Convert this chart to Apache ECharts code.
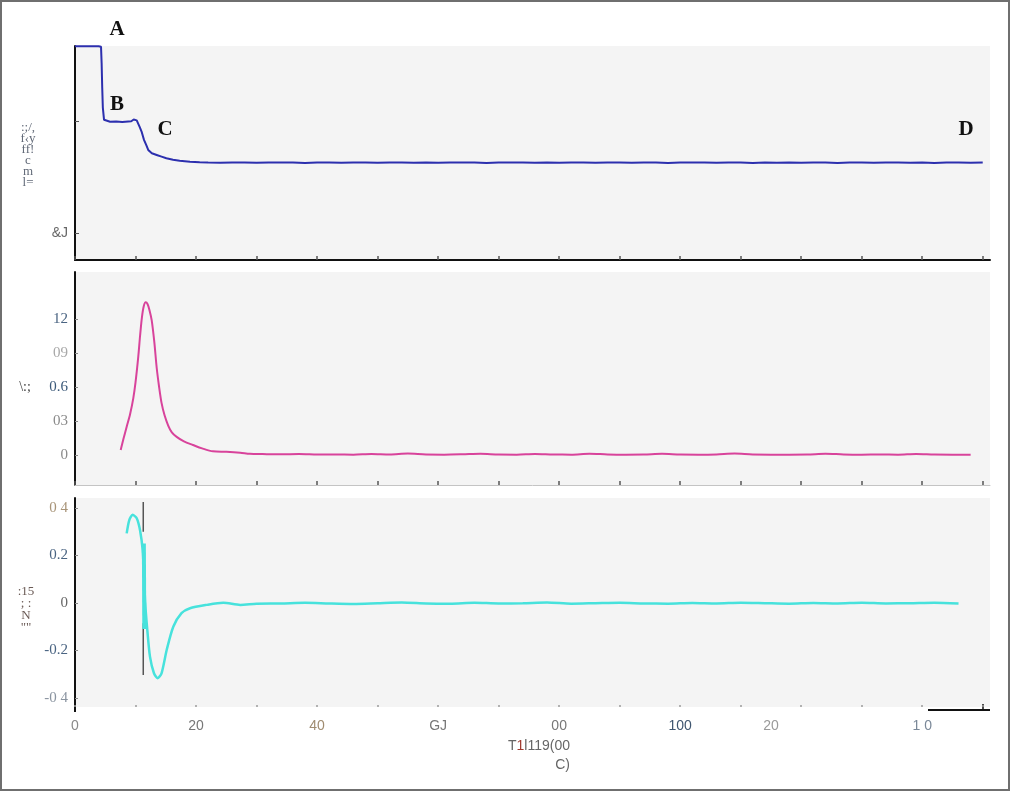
<!DOCTYPE html>
<html><head><meta charset="utf-8">
<script src="https://cdn.jsdelivr.net/npm/echarts@6/dist/echarts.min.js"></script>
<style>html,body{margin:0;padding:0;background:#fff}#c{width:1011px;height:792px}</style>
</head><body><div id="c"></div>
<script>
// ---------- DATA ----------
const xTickValues = [0,10,20,30,40,50,60,70,80,90,100,110,120,130,140,150];
const xLabelValues = [0,20,40,60,80,100,115,140];
const xLabelTexts = ['0','20','40','GJ','00','100','20','1 0'];

const y1TickValues = [80,100];
const y1LabelValues = [80];
const y1LabelTexts = ['&J'];
const y2TickValues = [0,0.3,0.6,0.9,1.2];
const y2LabelTexts = ['0','03','0.6','09','12'];
const y3TickValues = [-0.4,-0.2,0,0.2,0.4];
const y3LabelTexts = ['-0 4','-0.2','0','0.2','0 4'];

// top panel (blue trace)
const topX = [0,3.9,4.1,4.3,4.4,4.5,4.6,4.8,5.0,5.8,6.8,7.8,8.8,9.3,9.7,10.2,10.7,11.0,11.4,11.8,12.1,12.7,13.5,14.3,15.1,16.2,17.3,19.0,20.6,
  22,24,26,28,30,32,34,36,38,40,42,44,46,
  48,50,52,54,56,58,60,62,64,66,68,70,72,
  74,76,78,80,82,84,86,88,90,92,94,96,98,
  100,102,104,106,108,110,112,114,116,118,120,122,124,
  126,128,130,132,134,136,138,140,142,144,146,148,150];
const topY = [113.5,113.5,113.7,113.4,110.5,106,102.5,100.3,100.0,99.95,100.0,99.9,100.0,100.05,100.35,100.2,99.0,98.2,96.7,95.7,94.9,94.3,94.0,93.7,93.4,93.15,92.97,92.8,92.68,
  92.65,92.62,92.66,92.64,92.60,92.66,92.63,92.65,92.55,92.66,92.64,92.62,92.66,
  92.65,92.58,92.66,92.64,92.62,92.66,92.60,92.65,92.63,92.66,92.56,92.65,92.64,
  92.66,92.60,92.65,92.62,92.66,92.63,92.58,92.66,92.64,92.62,92.66,92.65,92.55,
  92.66,92.63,92.65,92.60,92.66,92.64,92.57,92.66,92.62,92.65,92.60,92.66,92.63,
  92.55,92.66,92.64,92.60,92.66,92.65,92.62,92.66,92.55,92.64,92.66,92.60,92.66];

// middle panel (magenta trace)
const midX = [7.55,8.0,8.54,9.1,9.63,10.0,10.46,10.75,11.05,11.35,11.68,12.0,12.3,12.67,13.1,13.5,13.9,14.3,14.8,15.4,16.0,16.8,18.0,19.5,21.0,22.8,25.0,27.3,28.9,
  31,34,37,40,43,46,49,52,55,58,61,64,67,70,73,76,79,82,85,88,91,94,97,100,103,106,109,112,115,118,121,124,127,130,133,136,139,142,145,148];
const midY = [0.044,0.14,0.25,0.36,0.5,0.64,0.87,1.05,1.21,1.31,1.347,1.33,1.28,1.19,1.0,0.77,0.6,0.46,0.35,0.26,0.2,0.16,0.12,0.088,0.058,0.032,0.028,0.02,0.01,
  0.008,0.006,0.009,0.005,0.004,0.003,0.008,0.004,0.012,0.004,0.003,0.006,0.011,0.004,0.003,0.008,0.004,0.003,0.011,0.005,0.003,0.004,0.01,0.004,0.003,0.005,0.012,0.004,0.003,0.003,0.004,0.011,0.005,0.003,0.004,0.003,0.009,0.004,0.003,0.003];

// bottom panel (cyan trace)
const lowX = [8.54,8.97,9.53,10.2,10.74,11.18,11.4,11.6,11.95,12.39,13.05,13.66,14.3,15.15,16.24,17.6,19.0,21.75,24.5,27.3,
  30,34,38,42,46,50,54,58,62,66,70,74,78,82,86,90,94,98,102,106,110,114,118,122,126,130,134,138,142,146];
const lowY = [0.293,0.349,0.371,0.357,0.307,0.223,0.111,0.0,-0.114,-0.226,-0.296,-0.317,-0.296,-0.198,-0.1,-0.043,-0.022,-0.008,0.001,-0.008,
  -0.003,-0.002,0.001,-0.002,-0.004,-0.001,0.002,-0.002,-0.003,0.001,-0.002,-0.001,0.002,-0.003,-0.001,0.001,-0.002,-0.003,0.0,-0.002,0.001,-0.001,-0.003,0.0,-0.002,0.001,-0.002,-0.001,0.001,-0.002];

// vertical marker in bottom panel
const markerTopX = [11.28,11.28];
const markerTopY = [0.425,0.30];
const markerBottomX = [11.28,11.28];
const markerBottomY = [-0.085,-0.303];
const thickX = [11.38,11.45];
const thickY = [0.25,-0.11];

// ---------- STYLE ----------
const C_BLUE = '#2c2fae', C_MAG = '#d8439b', C_CYAN = '#47e2dc', BG = '#f4f4f4';
const xLabelColors = ['#8a8a8a','#777777','#a08c70','#777777','#777777','#3f5670','#9a9a9a','#7a8898'];
const y1Colors = ['#666666'];
const y2Colors = ['#8a8a8a','#8a8a8a','#3d5a7a','#a8a8a8','#4a6482'];
const y3Colors = ['#8a94a0','#4a6482','#666666','#4a6482','#a89478'];

function zip(a,b){ return a.map((v,i)=>[v,b[i]]); }
function labelCfg(values, texts, colors, font, size){
  const rich = {};
  texts.forEach((t,i)=>{ rich['c'+i] = {color:colors[i], fontFamily:font, fontSize:size}; });
  return {
    customValues: values,
    formatter: function(v){
      let idx = -1;
      values.forEach((x,i)=>{ if (Math.abs(x-v) < 1e-6) idx = i; });
      return idx < 0 ? '' : '{c'+idx+'|'+texts[idx]+'}';
    },
    rich: rich,
    margin: 7
  };
}

const grids = [
  {left:75, top:46, width:915, height:214, show:true, backgroundColor:BG, borderWidth:0},
  {left:75, top:272, width:915, height:213, show:true, backgroundColor:BG, borderWidth:0},
  {left:75, top:498, width:915, height:209, show:true, backgroundColor:BG, borderWidth:0}
];

function xAxisCfg(i){
  const base = {type:'value', gridIndex:i, min:0, max:151.2, splitLine:{show:false},
    axisTick:{customValues:xTickValues, inside:true, length:4, lineStyle:{color:'#555', width:1.5}},
    axisLabel:{show:false}, axisLine:{show:true, onZero:false, lineStyle:{color:'#111', width:2}}};
  if (i===1) base.axisLine.lineStyle = {color:'#c4c4c4', width:1};
  if (i===2) {
    base.axisLine = {show:false, onZero:false};
    base.axisTick = {customValues:xTickValues, inside:true, length:2, lineStyle:{color:'#9a9a9a', width:1.5}};
    const l = labelCfg(xLabelValues, xLabelTexts, xLabelColors, 'Liberation Sans', 14);
    l.margin = 12;
    base.axisLabel = l;
  }
  return base;
}

const yAxes = [
  {type:'value', gridIndex:0, min:75.16, max:113.54, splitLine:{show:false},
   axisLine:{show:true, onZero:false, lineStyle:{color:'#111', width:2}},
   axisTick:{customValues:y1TickValues, inside:true, length:4, lineStyle:{color:'#555'}},
   axisLabel:labelCfg(y1LabelValues, y1LabelTexts, y1Colors, 'Liberation Sans', 14)},
  {type:'value', gridIndex:1, min:-0.265, max:1.615, splitLine:{show:false},
   axisLine:{show:true, onZero:false, lineStyle:{color:'#111', width:2}},
   axisTick:{customValues:y2TickValues, inside:true, length:3, lineStyle:{color:'#888'}},
   axisLabel:labelCfg(y2TickValues, y2LabelTexts, y2Colors, 'Liberation Serif', 15)},
  {type:'value', gridIndex:2, min:-0.438, max:0.442, splitLine:{show:false},
   axisLine:{show:true, onZero:false, lineStyle:{color:'#111', width:2}},
   axisTick:{customValues:y3TickValues, inside:true, length:3, lineStyle:{color:'#888'}},
   axisLabel:labelCfg(y3TickValues, y3LabelTexts, y3Colors, 'Liberation Serif', 15)}
];

const letterFont = 'bold 21px "Liberation Serif"';
const option = {
  animation:false,
  backgroundColor:'#ffffff',
  grid: grids,
  xAxis: [xAxisCfg(0), xAxisCfg(1), xAxisCfg(2)],
  yAxis: yAxes,
  series: [
    {type:'line', xAxisIndex:0, yAxisIndex:0, data:zip(topX,topY), showSymbol:false, lineStyle:{color:C_BLUE, width:2}, z:3},
    {type:'line', xAxisIndex:1, yAxisIndex:1, data:zip(midX,midY), showSymbol:false, smooth:0.3, lineStyle:{color:C_MAG, width:2}, z:3},
    {type:'line', xAxisIndex:2, yAxisIndex:2, data:zip(markerTopX,markerTopY), showSymbol:false, lineStyle:{color:'#555', width:1.5}, z:2},
    {type:'line', xAxisIndex:2, yAxisIndex:2, data:zip(markerBottomX,markerBottomY), showSymbol:false, lineStyle:{color:'#555', width:1.5}, z:2},
    {type:'line', xAxisIndex:2, yAxisIndex:2, data:zip(lowX,lowY), showSymbol:false, smooth:0.25, lineStyle:{color:C_CYAN, width:2.5}, z:3},
    {type:'line', xAxisIndex:2, yAxisIndex:2, data:zip(thickX,thickY), showSymbol:false, lineStyle:{color:C_CYAN, width:4}, z:3}
  ],
  graphic: [
    {type:'rect', shape:{x:1, y:1, width:1008, height:789}, style:{fill:'none', stroke:'#6f6f6f', lineWidth:2}, silent:true},
    {type:'text', x:117, y:30, style:{text:'A', font:letterFont, fill:'#111', textAlign:'center', textVerticalAlign:'middle'}},
    {type:'text', x:117, y:105, style:{text:'B', font:letterFont, fill:'#111', textAlign:'center', textVerticalAlign:'middle'}},
    {type:'text', x:165, y:130, style:{text:'C', font:letterFont, fill:'#111', textAlign:'center', textVerticalAlign:'middle'}},
    {type:'text', x:966, y:130, style:{text:'D', font:letterFont, fill:'#111', textAlign:'center', textVerticalAlign:'middle'}},
    {type:'text', x:28, y:122, style:{text:":;/,\nf\u2039y\nff!\nc\nm\nl=", font:'13px "Liberation Serif"', fill:'#626a78', textAlign:'center', lineHeight:11}},
    {type:'text', x:25, y:387, style:{text:'\\:;', font:'14px "Liberation Serif"', fill:'#444', textAlign:'center', textVerticalAlign:'middle'}},
    {type:'text', x:26, y:586, style:{text:":15\n; :\nN\n\"\"", font:'13px "Liberation Serif"', fill:'#6a5a55', textAlign:'center', lineHeight:12}},
    {type:'text', x:570, y:746, style:{text:'{a|T}{r|1}{a|l119(00}', rich:{a:{fill:'#666', font:'14px "Liberation Sans"'}, r:{fill:'#a03a30', font:'14px "Liberation Sans"'}}, textAlign:'right', textVerticalAlign:'middle'}},
    {type:'text', x:570, y:765, style:{text:'C)', font:'14px "Liberation Sans"', fill:'#666', textAlign:'right', textVerticalAlign:'middle'}},
    {type:'line', shape:{x1:928, y1:710, x2:990, y2:710}, style:{stroke:'#111', lineWidth:2}},
    {type:'line', shape:{x1:983, y1:704, x2:983, y2:710}, style:{stroke:'#111', lineWidth:1.5}},
    {type:'line', shape:{x1:75, y1:706, x2:75, y2:712}, style:{stroke:'#111', lineWidth:2}}
  ]
};
const chart = echarts.init(document.getElementById('c'));
chart.setOption(option);
</script></body></html>
